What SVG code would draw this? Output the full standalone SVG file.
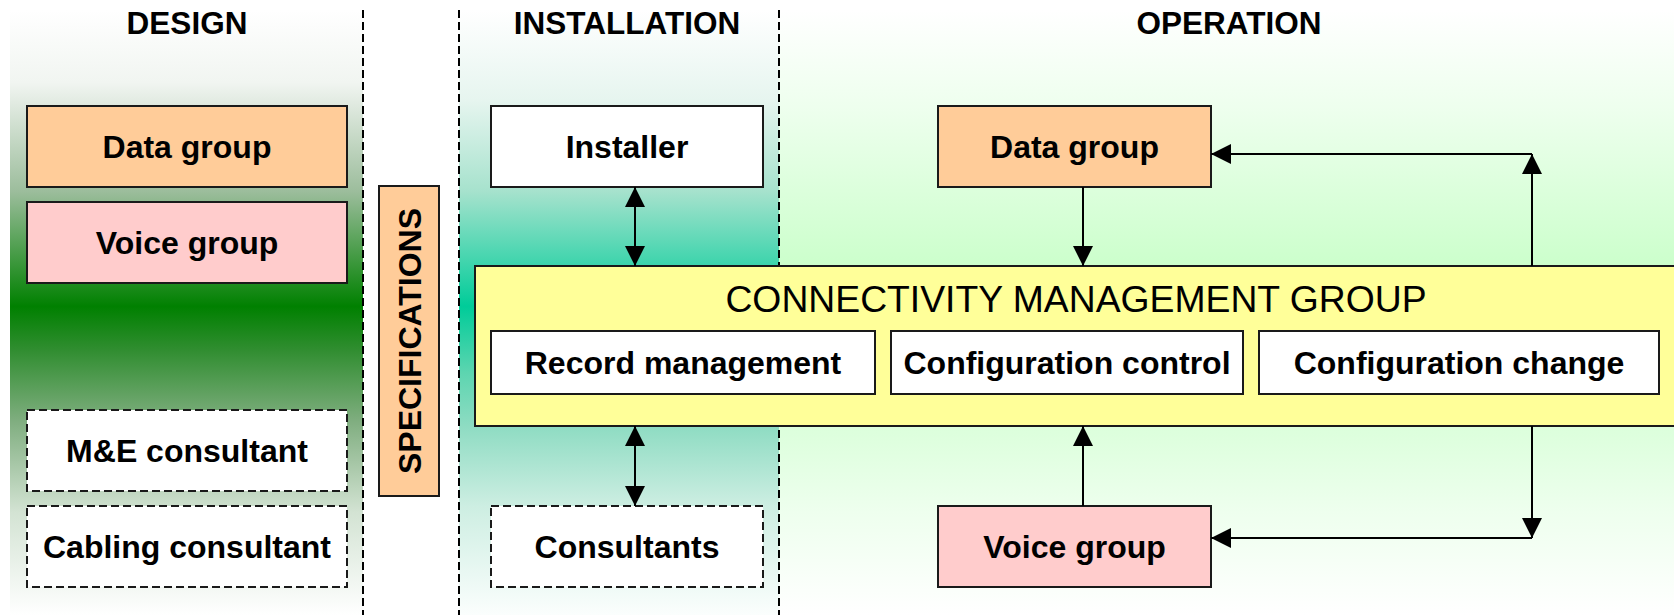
<svg xmlns="http://www.w3.org/2000/svg" width="1674" height="615" viewBox="0 0 1674 615">
<style>
.hdr{font-family:"Liberation Sans",Arial,sans-serif;font-weight:bold;font-size:31.5px;fill:#000;text-anchor:middle}
.lbl{font-family:"Liberation Sans",Arial,sans-serif;font-weight:bold;font-size:32px;fill:#000;text-anchor:middle}
.title{font-family:"Liberation Sans",Arial,sans-serif;font-size:37.3px;fill:#000;text-anchor:middle}
.box{stroke:#1a1a1a;stroke-width:2}
.dbox{fill:#fff;stroke:#1a1a1a;stroke-width:2;stroke-dasharray:8,4}
.div{stroke:#000;stroke-width:2;stroke-dasharray:8,4;fill:none}
.con{stroke:#000;stroke-width:2;fill:none}
</style>
<defs>
<linearGradient id="gDesign" gradientUnits="userSpaceOnUse" x1="0" y1="10" x2="0" y2="615">
<stop offset="0" stop-color="#ffffff"/>
<stop offset="0.12" stop-color="#f1f5f1"/>
<stop offset="0.3" stop-color="#9cbd9c"/>
<stop offset="0.49" stop-color="#008000"/>
<stop offset="0.56" stop-color="#2f8d2f"/>
<stop offset="0.68" stop-color="#80ae80"/>
<stop offset="0.83" stop-color="#d3e3d3"/>
<stop offset="1" stop-color="#ffffff"/>
</linearGradient>
<linearGradient id="gInst" gradientUnits="userSpaceOnUse" x1="0" y1="10" x2="0" y2="615">
<stop offset="0" stop-color="#ffffff"/>
<stop offset="0.15" stop-color="#e6f5ef"/>
<stop offset="0.3" stop-color="#a6e2cd"/>
<stop offset="0.49" stop-color="#00cc99"/>
<stop offset="0.6" stop-color="#5dd5b0"/>
<stop offset="0.69" stop-color="#8fdcc3"/>
<stop offset="0.82" stop-color="#cdeee2"/>
<stop offset="1" stop-color="#fbfefd"/>
</linearGradient>
<linearGradient id="gOp" gradientUnits="userSpaceOnUse" x1="0" y1="10" x2="0" y2="615">
<stop offset="0" stop-color="#ffffff"/>
<stop offset="0.16" stop-color="#eeffee"/>
<stop offset="0.42" stop-color="#ccffcc"/>
<stop offset="0.7" stop-color="#ddffdd"/>
<stop offset="0.83" stop-color="#eeffee"/>
<stop offset="1" stop-color="#ffffff"/>
</linearGradient>
<marker id="ah" markerUnits="userSpaceOnUse" viewBox="0 0 20 20" markerWidth="20" markerHeight="20" refX="20" refY="10" orient="auto-start-reverse">
<path d="M0,0 L20,10 L0,20 z" fill="#000"/>
</marker>
</defs>

<g id="backgrounds">
<rect x="10" y="10" width="353" height="605" fill="url(#gDesign)"/>
<rect x="459" y="10" width="320" height="605" fill="url(#gInst)"/>
<rect x="779" y="10" width="895" height="605" fill="url(#gOp)"/>
<line class="div" x1="363" y1="10" x2="363" y2="615"/>
<line class="div" x1="459" y1="10" x2="459" y2="615"/>
<line class="div" x1="779" y1="10" x2="779" y2="615"/>
</g>

<g id="headers">
<text class="hdr" x="187" y="34">DESIGN</text>
<text class="hdr" x="627" y="34">INSTALLATION</text>
<text class="hdr" x="1229" y="34">OPERATION</text>
</g>

<g id="design-data-group"><rect class="box" x="27" y="106" width="320" height="81" fill="#ffcc99"/><text class="lbl" x="187" y="158">Data group</text></g>
<g id="design-voice-group"><rect class="box" x="27" y="202" width="320" height="81" fill="#ffcccc"/><text class="lbl" x="187" y="254">Voice group</text></g>
<g id="design-me-consultant"><rect class="dbox" x="27" y="410" width="320" height="81"/><text class="lbl" x="187" y="462">M&amp;E consultant</text></g>
<g id="design-cabling-consultant"><rect class="dbox" x="27" y="506" width="320" height="81"/><text class="lbl" x="187" y="558">Cabling consultant</text></g>

<g id="specifications"><rect class="box" x="379" y="186" width="60" height="310" fill="#ffcc99"/><text class="lbl" transform="translate(420.5,341) rotate(-90)" x="0" y="0">SPECIFICATIONS</text></g>

<g id="installer"><rect class="box" x="491" y="106" width="272" height="81" fill="#fff"/><text class="lbl" x="627" y="158">Installer</text></g>
<g id="consultants"><rect class="dbox" x="491" y="506" width="272" height="81"/><text class="lbl" x="627" y="558">Consultants</text></g>

<g id="op-data-group"><rect class="box" x="938" y="106" width="273" height="81" fill="#ffcc99"/><text class="lbl" x="1074.5" y="158">Data group</text></g>
<g id="op-voice-group"><rect class="box" x="938" y="506" width="273" height="81" fill="#ffcccc"/><text class="lbl" x="1074.5" y="558">Voice group</text></g>

<g id="cmg">
<rect class="box" x="475" y="266" width="1210" height="160" fill="#ffff99"/>
<text class="title" x="1076" y="311.5">CONNECTIVITY MANAGEMENT GROUP</text>
<g id="record-management"><rect class="box" x="491" y="331" width="384" height="63" fill="#fff"/><text class="lbl" x="683" y="374">Record management</text></g>
<g id="configuration-control"><rect class="box" x="891" y="331" width="352" height="63" fill="#fff"/><text class="lbl" x="1067" y="374">Configuration control</text></g>
<g id="configuration-change"><rect class="box" x="1259" y="331" width="400" height="63" fill="#fff"/><text class="lbl" x="1459" y="374">Configuration change</text></g>
</g>

<g id="connectors">
<line class="con" x1="635" y1="187" x2="635" y2="266" marker-start="url(#ah)" marker-end="url(#ah)"/>
<line class="con" x1="635" y1="426" x2="635" y2="506" marker-start="url(#ah)" marker-end="url(#ah)"/>
<line class="con" x1="1083" y1="187" x2="1083" y2="266" marker-end="url(#ah)"/>
<line class="con" x1="1083" y1="506" x2="1083" y2="426" marker-end="url(#ah)"/>
<line class="con" x1="1532" y1="266" x2="1532" y2="154" marker-end="url(#ah)"/>
<line class="con" x1="1532" y1="154" x2="1211" y2="154" marker-end="url(#ah)"/>
<line class="con" x1="1532" y1="426" x2="1532" y2="538" marker-end="url(#ah)"/>
<line class="con" x1="1532" y1="538" x2="1211" y2="538" marker-end="url(#ah)"/>
</g>
</svg>
